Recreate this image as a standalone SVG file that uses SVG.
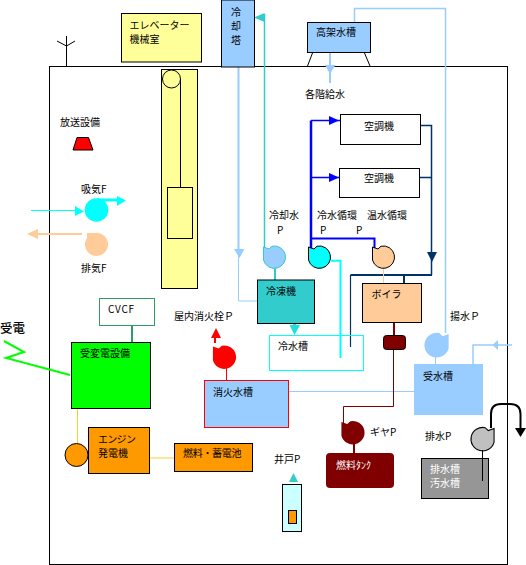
<svg xmlns="http://www.w3.org/2000/svg" width="526" height="565" viewBox="0 0 526 565">
<style>
text{font-family:"Noto Sans CJK JP","DejaVu Sans",sans-serif;font-size:10px;fill:#000}
.box{stroke:#000;stroke-width:1}
.l{fill:none;stroke:#000;stroke-width:1}
.lb{fill:none;stroke:#99CCFF;stroke-width:1.5}
.tq{fill:none;stroke:#33CCCC;stroke-width:1.5}
.bl{fill:none;stroke:#0000FF;stroke-width:2}
.nv{fill:none;stroke:#003366;stroke-width:1.5}
.cy{fill:none;stroke:#00FFFF;stroke-width:2}
.yl{fill:none;stroke:#FFCC33;stroke-width:1}
.mr{fill:none;stroke:#800000;stroke-width:1}
</style>
<defs>
<path id="pump" d="M-11.500 -10 L-6 -8 L-3 -10.800 A11.200 11.200 0 1 1 -11.500 3 Z"/>
</defs>
<rect id="building" x="49.500" y="66.500" width="458" height="498" fill="#fff" stroke="#000" stroke-width="1"/>
<g id="antenna"><path class="l" d="M66.500 36V67M57 41L66.500 46L75 41"/></g>

<g id="connectors">
<path class="l" d="M312.500 53L307.500 66M364.500 53L370 66"/>
<path class="lb" d="M354.500 22V8.500H445.500V333"/>
<path d="M238.500 67V250" fill="none" stroke="#99CCFF" stroke-width="2"/>
<path d="M238.500 250V301H257" fill="none" stroke="#99CCFF" stroke-width="1"/>
<polygon points="234,249 244.500,249 239.500,258" fill="#99CCFF"/>
<path d="M330 52V83" fill="none" stroke="#99CCFF" stroke-width="2"/>
<polygon points="325,65 335.500,65 330,74" fill="#99CCFF"/>
<path class="tq" d="M264.500 250V14"/>
<polygon points="254,17.500 264.500,13 264.500,22" fill="#33CCCC"/>
<path d="M275 268V280" fill="none" stroke="#33CCCC" stroke-width="2"/>
<path d="M311 250V120.500" fill="none" stroke="#0000FF" stroke-width="2.500"/>
<path d="M311 120.500H340M311 177.500H340" fill="none" stroke="#0000FF" stroke-width="1.500"/>
<polygon points="329,116 339,120.500 329,125" fill="#0000FF"/>
<polygon points="329,173 339,177.500 329,182" fill="#0000FF"/>
<path class="bl" d="M311 238.500H374.500V248"/>
<path class="nv" d="M420 125.500H431.500V275M420 177.500H431.500"/>
<polygon points="427,252 437,252 432,262" fill="#003366"/>
<path d="M432 275H350.500M404 275V283" fill="none" stroke="#003366" stroke-width="2"/>
<path d="M350.500 275V347" fill="none" stroke="#003366" stroke-width="1.200"/>
<path d="M331 260.700H340.500V358" class="cy"/>
<path d="M383.500 268V283" fill="none" stroke="#FFCC99" stroke-width="1"/>
<polygon points="289.500,325 300,325 294.500,335" fill="#22DDDD"/>
<path d="M294.500 323V327" stroke="#22DDDD" stroke-width="3"/>
<path d="M132 325V342" fill="none" stroke="#339966" stroke-width="2"/>
<path d="M4 341L24 352L6 358L70 375" fill="none" stroke="#00FF00" stroke-width="2"/>
<path class="yl" d="M77.500 408V444M149 458H174"/>
<path d="M226.500 368V380" fill="none" stroke="#FF0000" stroke-width="1"/>
<path d="M215 343V337" fill="none" stroke="#FF0000" stroke-width="2"/>
<polygon points="216,328 211,338 221,338" fill="#FF0000"/>
<path d="M288 391.500H414" fill="none" stroke="#99CCFF" stroke-width="1"/>
<path d="M435.500 357V364" fill="none" stroke="#99CCFF" stroke-width="1"/>
<path class="lb" d="M473 364V345H512"/>
<polygon points="492.500,345 498,340 498,350" fill="#99CCFF"/>
<path d="M394 322V335" fill="none" stroke="#800000" stroke-width="2"/>
<path class="mr" d="M393.500 349V406.500H343.500V423"/>
<path d="M354 444V453" fill="none" stroke="#800000" stroke-width="2"/>
<path d="M292.500 484V511" fill="none" stroke="#33CCCC" stroke-width="1"/>
<polygon points="293.500,473 289,482 298,482" fill="#33CCCC"/>
<path d="M491 428V414Q491 404 501 404H510Q520.500 404 520.500 414V430" fill="none" stroke="#000" stroke-width="2"/>
<polygon points="515,428 526,428 520.500,437" fill="#000"/>
<path d="M31 210.500H76" fill="none" stroke="#00FFFF" stroke-width="1"/>
<polygon points="75,206 84,211.500 75,216" fill="#00FFFF"/>
<path d="M97 200H118" fill="none" stroke="#00FFFF" stroke-width="3"/>
<polygon points="117,196 126,200.500 117,206" fill="#00FFFF"/>
<path d="M37 234H82" fill="none" stroke="#FFCC99" stroke-width="2"/>
<polygon points="27,234 38,229 38,239" fill="#FFCC99"/>
</g>

<g id="elevator-room"><rect class="box" x="121.500" y="13.500" width="80" height="48.500" fill="#FFFF99"/><text x="129.500" y="29">エレベーター</text><text x="129.500" y="43">機械室</text></g>
<g id="cooling-tower"><rect class="box" x="221.500" y="0" width="33" height="67" fill="#99CCFF"/><text x="231" y="16">冷</text><text x="231" y="30">却</text><text x="231" y="44">塔</text></g>
<g id="elevator-shaft"><rect class="box" x="161.500" y="69.500" width="36" height="219" fill="#FFFF99"/><circle class="l" cx="171.500" cy="79" r="9"/><path class="l" d="M180.500 79V187.500"/><rect class="l" x="167.500" y="187.500" width="25" height="51"/></g>
<g id="broadcast"><text x="60" y="126">放送設備</text><polygon class="box" points="73,150 93,150 88.500,137.500 77,137.500" fill="#FF0000"/></g>
<g id="supply-fan"><text x="81" y="192.500">吸気F</text><circle cx="96.500" cy="210" r="11.800" fill="#00FFFF"/></g>
<g id="exhaust-fan"><text x="81" y="272">排気F</text><path d="M87 233H97.500A11.500 11.500 0 1 1 87 238Z" fill="#FFCC99"/></g>
<g id="cvcf"><rect x="99.500" y="298.500" width="55" height="27" fill="#fff" stroke="#339966"/><text x="108" y="313" letter-spacing="0.700">CVCF</text></g>
<g id="power-in"><text x="0" y="333" style="font-size:12.500px;font-weight:500">受電</text></g>
<g id="substation"><rect class="box" x="71.500" y="342.500" width="79" height="66" fill="#00FF00"/><text x="80" y="357">受変電設備</text></g>
<g id="generator"><circle class="box" cx="76.500" cy="455" r="11.500" fill="#FF9900"/><rect class="box" x="88.500" y="427.500" width="61" height="46" fill="#FF9900"/><text x="98" y="443" letter-spacing="-0.700">エンジン</text><text x="98" y="457">発電機</text></g>
<g id="fuel-battery"><rect class="box" x="174.500" y="443.500" width="78" height="28" fill="#FF9900"/><text x="183" y="457" letter-spacing="-0.300">燃料・蓄電池</text></g>
<g id="hydrant-pump"><text x="174" y="320">屋内消火栓Ｐ</text><use href="#pump" transform="translate(225 357) scale(1.050)" fill="#FF0000"/></g>
<g id="fire-tank"><rect x="204.500" y="380.500" width="84" height="47" fill="#99CCFF" stroke="#FF0000"/><text x="213" y="396">消火水槽</text></g>
<g id="receiving-tank"><rect x="414" y="364" width="69" height="51" fill="#99CCFF"/><text x="423" y="380">受水槽</text></g>
<g id="lift-pump"><text x="450" y="320">揚水Ｐ</text><use href="#pump" transform="translate(436 345) scale(-1.100 1.100)" fill="#99CCFF"/></g>
<g id="roof-tank"><rect class="box" x="307.500" y="22.500" width="63" height="30" fill="#99CCFF"/><text x="316" y="36">高架水槽</text></g>
<g id="water-label"><text x="305" y="98">各階給水</text></g>
<g id="ahu1"><rect class="box" x="340.500" y="114.500" width="80" height="30" fill="#fff"/><text x="364" y="130">空調機</text></g>
<g id="ahu2"><rect class="box" x="339.500" y="168.500" width="80" height="29" fill="#fff"/><text x="364" y="182">空調機</text></g>
<g id="cooling-pump"><text x="269" y="219">冷却水</text><text x="277" y="233.500">P</text><use href="#pump" transform="translate(275 257)" fill="#99CCFF" stroke="#33CCCC"/></g>
<g id="chilled-pump"><text x="317" y="219">冷水循環</text><text x="320" y="233.500">P</text><use href="#pump" transform="translate(320 257)" fill="#00FFFF" stroke="#000"/></g>
<g id="hot-pump"><text x="367" y="219">温水循環</text><text x="356" y="233.500">P</text><use href="#pump" transform="translate(384 257)" fill="#FFCC99" stroke="#000"/></g>
<g id="chiller"><rect class="box" x="257.500" y="280" width="57" height="43.500" fill="#33CCCC"/><text x="266" y="295">冷凍機</text></g>
<g id="chilled-tank"><rect x="269.500" y="335.500" width="94" height="35" fill="none" stroke="#00FFFF"/><text x="278" y="350">冷水槽</text></g>
<g id="boiler"><rect class="box" x="362.500" y="283.500" width="59" height="39" fill="#FFCC99"/><text x="371.500" y="297.500">ボイラ</text></g>
<g id="burner"><rect class="box" x="383.500" y="335.500" width="22" height="14" rx="3" fill="#800000"/></g>
<g id="gear-pump"><text x="370" y="436">ギヤP</text><use href="#pump" transform="translate(353.500 432.500) scale(1.050)" fill="#800000"/></g>
<g id="fuel-tank"><rect x="326" y="453" width="68" height="35" rx="4" fill="#800000"/><text x="336" y="469" style="fill:#fff">燃料ﾀﾝｸ</text></g>
<g id="well"><text x="274" y="463">井戸P</text><rect class="box" x="282.500" y="484.500" width="19" height="47" fill="#CCFFFF"/><rect class="box" x="288.500" y="510.500" width="8" height="13" fill="#FF9900"/></g>
<g id="drain-pump"><text x="425" y="440">排水P</text><use href="#pump" transform="translate(482 439) scale(-1.050 1.050)" fill="#C0C0C0" stroke="#000"/></g>
<g id="drain-tank"><rect class="box" x="421.500" y="458.500" width="67" height="40" fill="#969696"/><text x="430" y="473" style="fill:#fff">排水槽</text><text x="430" y="487" style="fill:#fff">汚水槽</text><path class="l" d="M482.500 450V481"/></g>
</svg>
